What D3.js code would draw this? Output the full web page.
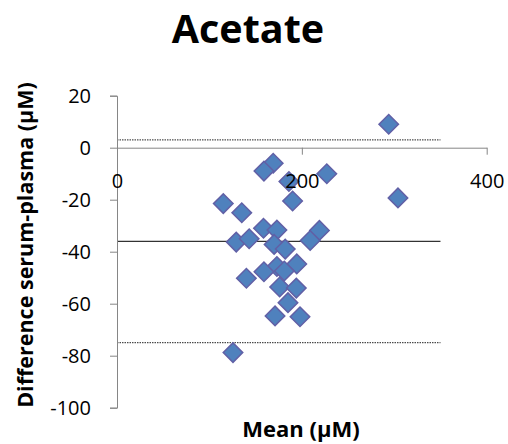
<!DOCTYPE html>
<html>
<head>
<meta charset="utf-8">
<script src="https://cdn.jsdelivr.net/npm/d3@7"></script>
<style>
  body { margin: 0; background: #fff; }
  text { font-family: 'Open Sans', sans-serif; }
  .title { font-size: 39.5px; font-weight: bold; }
  .axis-label { font-weight: bold; }
  .tick text { font-size: 20px; fill: #000; }
</style>
</head>
<body>
<svg id="svg1" width="508" height="444"></svg>
<script>
const svg1 = d3.select('#svg1');

const width = +svg1.attr('width');
const height = +svg1.attr('height');

// mean of serum and plasma (x) and difference serum-plasma (y), µM
const meanVals = [294, 169, 159, 227, 186, 304, 115, 190, 135, 158.5, 173, 219, 209, 129,
  143, 170, 182, 194.5, 173, 159, 181, 140, 176, 194, 185, 171, 198, 125.5];
const diffVals = [9, -6, -9, -10, -13, -19.3, -21.5, -20.5, -25, -31, -31.7, -31.8, -35.7, -36.3,
  -35, -37.2, -39, -44.7, -45.7, -47.7, -47.4, -50.2, -53.6, -54, -59.6, -64.7, -65, -78.8];

const xTicks = [0, 200, 400];
const yTicks = [-100, -80, -60, -40, -20, 0, 20];

// bias and limits of agreement
const meanDiff = -36;
const upperLimit = 3;
const lowerLimit = -75;
const lineExtent = [0, 350];

const title = 'Acetate';
const xAxisLabel = 'Mean (µM)';
const yAxisLabel = 'Difference serum-plasma (µM)';

const data = meanVals.map((m, i) => ({ x: m, y: diffVals[i] }));

const render = data => {
  const margin = { top: 95.7, right: 21.3, bottom: 36.3, left: 117 };
  const innerWidth = width - margin.left - margin.right;
  const innerHeight = height - margin.top - margin.bottom;

  const xScale = d3.scaleLinear()
    .domain([0, 400])
    .range([0, innerWidth]);

  const yScale = d3.scaleLinear()
    .domain([-100, 20])
    .range([innerHeight, 0]);

  const g = svg1.append('g')
    .attr('transform', `translate(${margin.left},${margin.top})`);

  // reference lines
  const refLines = [
    { v: upperLimit, dash: '1.5,1' },
    { v: meanDiff, dash: null },
    { v: lowerLimit, dash: '1.5,1' }
  ];
  g.selectAll('.ref-line').data(refLines)
    .enter().append('line')
      .attr('class', 'ref-line')
      .attr('x1', xScale(lineExtent[0]))
      .attr('x2', xScale(lineExtent[1]))
      .attr('y1', d => yScale(d.v))
      .attr('y2', d => yScale(d.v))
      .attr('stroke', d => d.dash ? '#222' : '#000')
      .attr('stroke-width', 1)
      .attr('stroke-dasharray', d => d.dash);

  const yAxis = d3.axisLeft(yScale)
    .tickValues(yTicks)
    .tickFormat(d => String(d))
    .tickSize(7)
    .tickPadding(19);

  const yAxisG = g.append('g').call(yAxis);
  yAxisG.select('.domain').attr('stroke', '#868686');
  yAxisG.selectAll('.tick line').attr('stroke', '#868686');

  const xAxis = d3.axisBottom(xScale)
    .tickValues(xTicks)
    .tickFormat(d => String(d))
    .tickSize(7)
    .tickPadding(19)
    .tickSizeOuter(0);

  // points
  const diamond = d3.symbol().type(d3.symbolSquare).size(190);
  g.selectAll('.pt').data(data)
    .enter().append('path')
      .attr('class', 'pt')
      .attr('d', diamond)
      .attr('transform', d => `translate(${xScale(d.x)},${yScale(d.y)}) rotate(45)`)
      .attr('fill', '#4f81bd')
      .attr('stroke', '#6160a6')
      .attr('stroke-width', 1.5);

  const xAxisG = g.append('g').call(xAxis)
    .attr('transform', `translate(0,${yScale(0)})`);
  xAxisG.select('.domain').attr('stroke', '#868686');
  xAxisG.selectAll('.tick line').attr('stroke', '#868686');

  svg1.append('text')
    .attr('class', 'title')
    .attr('x', 248)
    .attr('y', 43)
    .attr('text-anchor', 'middle')
    .text(title);

  svg1.append('text')
    .attr('class', 'axis-label')
    .attr('x', 301)
    .attr('y', 437)
    .attr('text-anchor', 'middle')
    .style('font-size', '22px')
    .text(xAxisLabel);

  svg1.append('text')
    .attr('class', 'axis-label')
    .attr('transform', `translate(33,245) rotate(-90)`)
    .attr('text-anchor', 'middle')
    .style('font-size', '21.5px')
    .text(yAxisLabel);
};

render(data);
</script>
</body>
</html>
